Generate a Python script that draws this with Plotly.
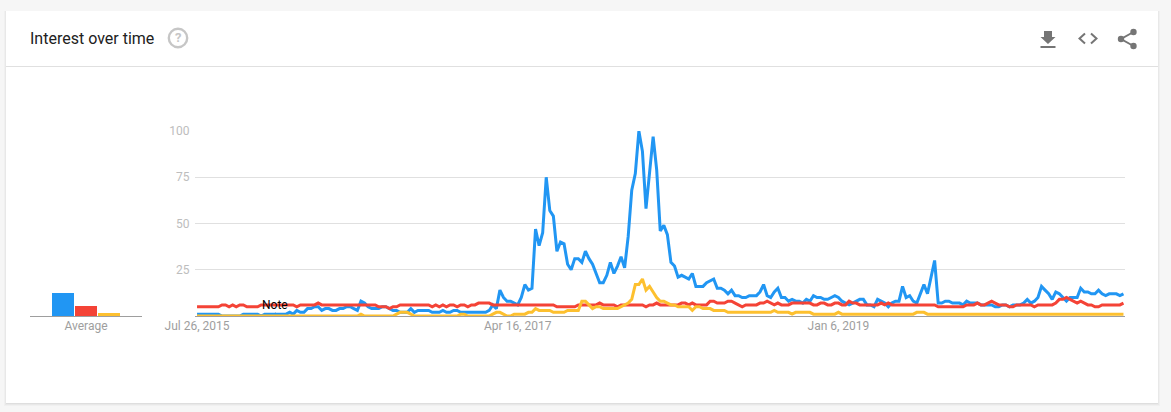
import pandas as pd
import plotly.graph_objects as go

W, H = 1171, 412

start_date = "2015-07-26"
tick_dates = ["2015-07-26", "2017-04-16", "2019-01-06"]
tick_labels = ["Jul 26, 2015", "Apr 16, 2017", "Jan 6, 2019"]
y_ticks = [0, 25, 50, 75, 100]
y_tick_labels = ["", "25", "50", "75", "100"]

blue = [1,1,1,1,1,1,1,0,0,0,0,0,0,1,1,1,1,1,0,1,1,1,1,1,1,
        1,2,1,3,2,2,4,4,5,5,3,4,4,3,3,4,4,5,5,4,3,
        8,7,5,4,4,4,5,5,4,3,3,2,2,2,4,2,3,3,3,3,
        2,2,2,3,2,2,3,3,2,2,2,2,2,2,2,2,3,6,4,
        14,10,8,8,7,6,10,17,14,15,47,38,45,75,57,54,35,40,39,28,25,31,31,29,35,31,28,23,18,18,22,29,23,27,32,26,
        43,68,77,100,89,58,76,97,79,46,49,44,29,27,21,22,21,20,23,16,16,16,18,19,20,15,15,14,12,14,11,11,
        10,10,11,11,11,13,17,11,10,13,15,10,10,8,9,8,8,7,9,8,11,10,10,9,9,10,11,10,8,7,6,7,8,9,9,6,6,5,9,8,7,5,7,8,8,
        16,10,11,8,7,12,17,
        12,21,30,7,7,8,8,7,7,7,6,8,7,7,7,6,6,6,6,5,5,6,6,5,6,6,6,7,9,7,8,10,16,14,12,9,13,12,10,8,10,10,10,15,13,13,12,12,14,12,11,12,12,12,11,12]

red = [5,5,5,5,5,5,5,
       6,6,5,6,5,6,6,
       5,5,5,5,6,6,6,
       6,6,6,6,6,6,6,
       5,6,6,6,6,6,7,
       6,6,6,6,6,6,6,
       6,6,6,6,6,6,6,
       6,6,5,5,5,4,5,
       5,6,6,6,6,6,6,
       6,6,6,5,6,5,6,
       5,6,6,5,6,6,5,
       6,6,7,7,7,7,6,
       6,6,6,6,6,6,6,
       6,6,6,6,6,6,6,
       6,6,6,5,5,5,5,5,5,
       6,6,6,6,6,6,7,6,
       6,6,6,5,6,6,6,6,
       6,6,6,5,6,6,7,6,
       6,6,6,6,6,7,7,6,
       7,6,6,6,6,8,8,7,
       7,7,8,8,7,6,5,6,6,6,6,7,7,8,7,6,7,6,6,6,
       7,7,7,7,7,7,6,6,7,7,6,6,7,7,6,6,
       8,7,7,6,6,6,6,6,6,7,6,7,6,6,6,6,6,6,6,6,6,6,
       6,6,6,
       5,5,5,5,5,5,5,5,
       6,6,6,7,6,6,7,8,7,6,6,6,
       5,5,6,6,6,6,6,5,6,6,6,6,6,7,
       9,9,10,9,8,7,8,7,6,6,5,5,
       6,6,6,6,6,6,7]

yellow = [0,0,0,0,0,0,0,0,0,0,0,0,0,0,0,0,0,0,0,0,0,0,0,0,0,0,0,0,0,0,0,0,0,0,0,0,0,0,0,0,0,0,0,0,0,0,
          1,
          0,0,0,0,0,0,0,0,0,
          1,2,2,2,1,
          0,0,0,0,0,0,0,0,0,0,0,0,0,
          1,1,0,0,0,0,0,0,0,
          1,2,2,1,
          0,0,1,1,1,1,
          2,2,4,3,3,3,3,2,2,2,2,3,3,3,3,8,8,6,4,5,5,4,4,4,4,4,5,6,7,9,17,17,20,14,16,13,10,8,8,7,6,6,5,5,5,5,3,5,5,4,4,4,3,3,3,3,
          2,2,2,2,2,2,2,2,2,2,2,2,2,
          3,2,2,2,2,1,
          2,2,2,2,2,
          1,1,1,1,1,1,1,
          2,
          1,1,1,1,1,1,1,1,1,1,1,1,1,1,1,1,1,1,1,1,1,
          2,2,2,
          1,1,1,1,1,1,1,1,1,1,1,1,1,1,1,1,1,1,1,1,1,1,1,1,1,1,1,1,1,1,1,1,1,1,1,1,1,1,1,1,1,1,1,1,1,1,1,1,1,1,1,1,1,1,1,1]

avg_values = [12.5, 5.5, 1.6]
note_date = "2015-12-27"
colors = ["#2196f3", "#f44336", "#fdc02f"]

assert len(blue) == len(red) == len(yellow) == 261, (len(blue), len(red), len(yellow))
dates = pd.date_range(start_date, periods=261, freq="7D")

px = lambda v: v / W
py = lambda v: 1 - v / H

fig = go.Figure()
for vals, col in zip([blue, red, yellow], colors):
    fig.add_trace(go.Scatter(x=dates, y=vals, mode="lines", cliponaxis=True, hoverinfo="skip",
                             line=dict(color=col, width=3), xaxis="x", yaxis="y", showlegend=False))
fig.add_trace(go.Bar(x=[-1, 0, 1], y=avg_values, marker=dict(color=colors, line=dict(width=0)),
                     width=0.96, xaxis="x2", yaxis="y2", showlegend=False, hoverinfo="skip"))

def rect(x0, y0, x1, y1, fill):
    return dict(type="rect", xref="paper", yref="paper", x0=px(x0), x1=px(x1), y0=py(y1), y1=py(y0),
                fillcolor=fill, line=dict(width=0), layer="below")

def path(points, stroke=None, width=2, fill=None, close=False):
    d = "M" + " L".join(f"{px(x):.5f},{py(y):.5f}" for x, y in points) + (" Z" if close else "")
    return dict(type="path", xref="paper", yref="paper", path=d, layer="above",
                fillcolor=fill if fill else "rgba(0,0,0,0)",
                line=dict(color=stroke if stroke else "rgba(0,0,0,0)", width=width if stroke else 0))

def circle(cx, cy, r, fill=None, stroke=None, width=2):
    return dict(type="circle", xref="paper", yref="paper", x0=px(cx - r), x1=px(cx + r), y0=py(cy + r), y1=py(cy - r),
                fillcolor=fill if fill else "rgba(0,0,0,0)",
                line=dict(color=stroke if stroke else "rgba(0,0,0,0)", width=width if stroke else 0), layer="above")

icon = "#757575"
shapes = [
    rect(4, 11, 1160, 406, "#f0f0f0"),
    rect(5, 11, 1159, 405, "#e8e8e8"),
    rect(6, 11, 1158, 404, "#dedede"),
    rect(6, 11, 1158, 403, "#ffffff"),
    rect(6, 66, 1158, 67, "#e0e0e0"),
    # help icon
    circle(178, 38, 9.2, stroke="#c6c6c6", width=2.4),
    # download
    path([(1044, 31), (1052, 31), (1052, 37), (1055.5, 37), (1048, 44), (1040.5, 37), (1044, 37)], fill=icon, close=True),
    rect(1040.5, 46, 1055.5, 48, icon) | {"layer": "above"},
    # code
    path([(1085, 33.5), (1079.5, 38.5), (1085, 43.5)], stroke=icon, width=2),
    path([(1091, 33.5), (1096.5, 38.5), (1091, 43.5)], stroke=icon, width=2),
    # share
    path([(1133.5, 32), (1121, 39), (1133.5, 46)], stroke=icon, width=2),
    circle(1133.5, 32, 3.2, fill=icon),
    circle(1133.5, 46, 3.2, fill=icon),
    circle(1121, 39, 3.2, fill=icon),
    # note tick
    dict(type="line", xref="x", yref="y", x0=note_date, x1=note_date, y0=0, y1=2,
         line=dict(color="#bdbdbd", width=1), layer="below"),
]

annotations = [
    dict(text="Interest over time", xref="paper", yref="paper", x=px(28), y=py(38.5), xanchor="left", yanchor="middle",
         showarrow=False, font=dict(family="Roboto", size=16, color="#212121")),
    dict(text="<b>?</b>", xref="paper", yref="paper", x=px(178), y=py(38), xanchor="center", yanchor="middle",
         showarrow=False, font=dict(family="Roboto", size=13, color="#c6c6c6")),
    dict(text="Note", xref="x", yref="y", x=note_date, y=6, xanchor="center", yanchor="middle",
         showarrow=False, font=dict(family="Roboto", size=12, color="#000000")),
]

fig.update_layout(
    width=W, height=H, margin=dict(l=0, r=0, t=0, b=0), autosize=False,
    paper_bgcolor="#f6f6f6", plot_bgcolor="rgba(0,0,0,0)",
    shapes=shapes, annotations=annotations, bargap=0, dragmode=False,
    font=dict(family="Roboto"),
    xaxis=dict(domain=[px(195), px(1125)], range=["2015-07-22", "2020-07-22"], showgrid=False, zeroline=False,
               automargin=False,
               tickmode="array", tickvals=tick_dates, ticktext=tick_labels, ticks="", ticklabelstandoff=-1,
               tickfont=dict(size=12, color="#9e9e9e"),
               showline=True, linecolor="#9e9e9e", linewidth=1, anchor="y"),
    yaxis=dict(domain=[py(316), py(131)], range=[0, 100], tickmode="array", tickvals=y_ticks, ticktext=y_tick_labels,
               automargin=False,
               gridcolor="#e0e0e0", gridwidth=1, zeroline=False, showline=False, ticks="outside", ticklen=2,
               tickcolor="rgba(0,0,0,0)", tickfont=dict(size=12, color="#bdbdbd"), anchor="x"),
    xaxis2=dict(domain=[px(30), px(142)], range=[-2.435, 2.435], showgrid=False, zeroline=False, tickmode="array",
                automargin=False,
                tickvals=[0], ticktext=["Average"], ticks="", ticklabelstandoff=-1,
                tickfont=dict(size=12, color="#9e9e9e"), showline=True, linecolor="#9e9e9e", linewidth=1, anchor="y2"),
    yaxis2=dict(domain=[py(316), py(131)], range=[0, 100], visible=False, anchor="x2", automargin=False),
)

fig.write_html("out.html", config={"displayModeBar": False, "staticPlot": True},
               post_script="document.body.style.margin='0';document.body.style.background='#f6f6f6';")
